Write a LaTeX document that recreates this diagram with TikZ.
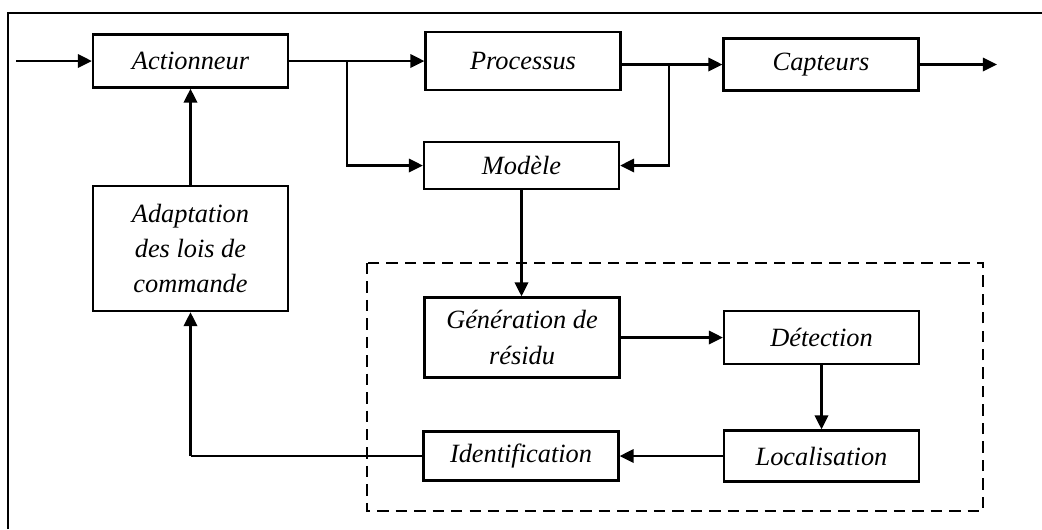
\documentclass[tikz,border=0pt]{standalone}
\usepackage{fontspec}
\setmainfont{Liberation Serif}
\usetikzlibrary{arrows.meta}

\begin{document}
\begin{tikzpicture}[x=0.02cm, y=-0.02cm,
	bloc/.style={draw, line width=1.25pt, minimum width=3.9cm, inner sep=2pt, align=center,
		font=\fontsize{15}{20}\selectfont\itshape},
	fleche/.style={line width=1.6pt, -{Triangle[length=8pt,width=7.5pt]}},
	pointille/.style={line width=1.6pt, dash pattern=on 6.5pt off 4pt}]
		\useasboundingbox (0,0) rectangle (1042,529);
		% cadre
		\draw[line width=1.2pt] (8,529) -- (8,13) -- (1042,13);
		% blocs
		\node[bloc, minimum height=1.06cm] (act) at (190.5,61) {Actionneur};
		\node[bloc, minimum height=1.16cm] (proc) at (523,61) {Processus};
		\node[bloc, minimum height=1.04cm] (capt) at (821,64.5) {Capteurs};
		\node[bloc, minimum height=0.94cm] (mod) at (521.5,165.5) {Modèle};
		\node[bloc, minimum height=2.5cm] (adapt) at (190.5,248.5) {Adaptation\\des lois de\\commande};
		\node[bloc, minimum height=1.6cm] (gen) at (522,337.5) {Génération de\\résidu};
		\node[bloc, minimum height=1.06cm] (det) at (821.5,337.5) {Détection};
		\node[bloc, minimum height=0.98cm] (ident) at (521,456) {Identification};
		\node[bloc, minimum height=1.02cm] (loc) at (821.5,456) {Localisation};
		% zone du diagnostic
		\draw[pointille] (367,263) rectangle (983,511);
		% points libres
		\coordinate (entree) at (16,61);
		\coordinate (sortie) at (997,64.5);
		\coordinate (b1) at (347,61);
		\coordinate (b2) at (669,64.5);
		\coordinate (coin) at (ident.west -| adapt);
		% liaisons
		\draw[fleche] (entree) -- (act);
		\draw[fleche] (act) -- (proc);
		\draw[fleche] (b1) |- (mod);
		\draw[fleche] (proc.east |- capt.west) -- (capt);
		\draw[fleche] (b2) |- (mod);
		\draw[fleche] (capt) -- (sortie);
		\draw[fleche] (mod) -- (mod |- gen.north);
		\draw[fleche] (gen) -- (det);
		\draw[fleche] (det) -- (loc);
		\draw[fleche] (loc) -- (ident);
		\draw[line width=1pt] (ident) -- (coin);
		\draw[fleche] (coin) -- (adapt);
		\draw[fleche] (adapt) -- (act);
\end{tikzpicture}
\end{document}
